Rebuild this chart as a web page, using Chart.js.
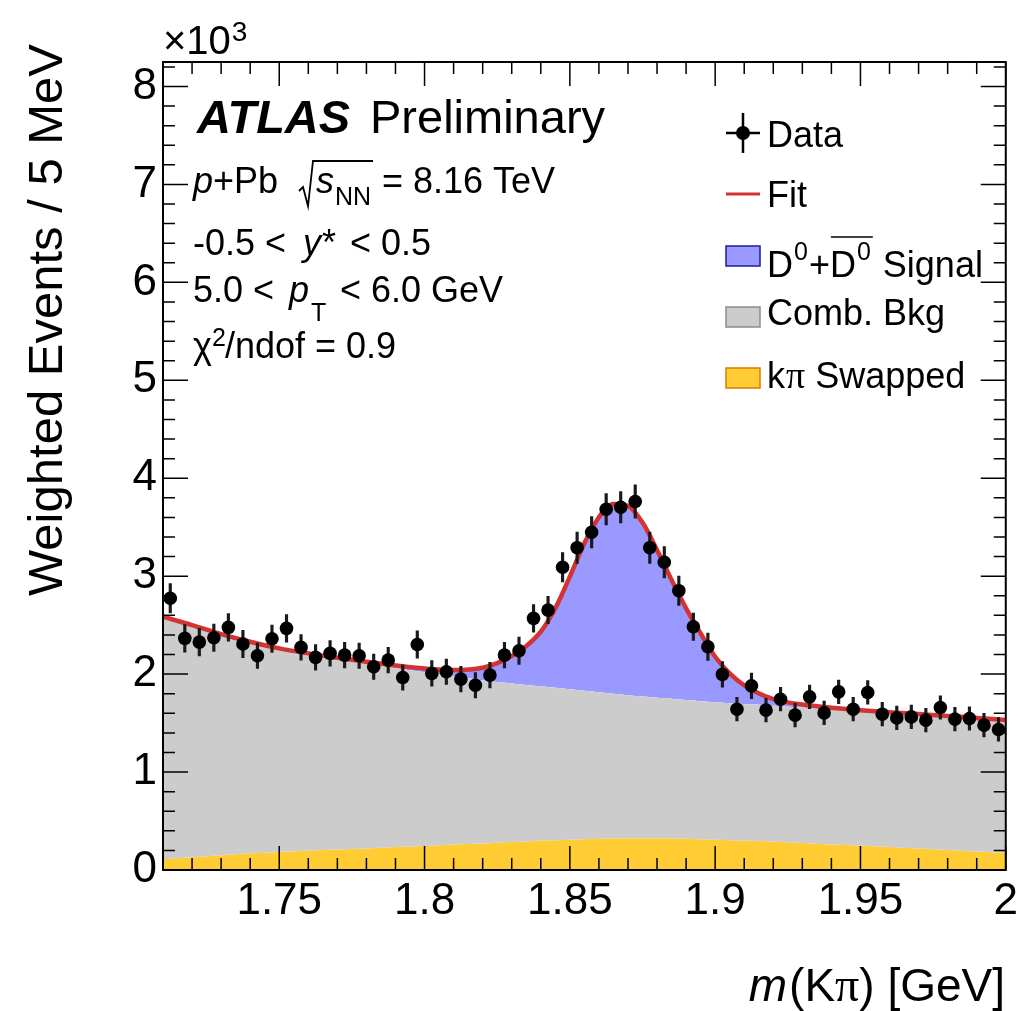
<!DOCTYPE html>
<html lang="en">
<head>
<meta charset="UTF-8">
<title>D0 mass fit, p+Pb 8.16 TeV</title>
<style>
    body { margin: 0; background: #fff; }
    #wrap { width: 1023px; height: 1011px; }
</style>
</head>
<body>
<div id="wrap"><canvas id="massChart"></canvas></div>

<script src="https://cdn.jsdelivr.net/npm/chart.js@4.4.1/dist/chart.umd.min.js"></script>
<script>
    // bin centres (5 MeV bins) and weighted counts, in units of 10^3
    const binCenters = [
        1.7125, 1.7175, 1.7225, 1.7275, 1.7325, 1.7375, 1.7425, 1.7475, 1.7525, 1.7575,
        1.7625, 1.7675, 1.7725, 1.7775, 1.7825, 1.7875, 1.7925, 1.7975, 1.8025, 1.8075,
        1.8125, 1.8175, 1.8225, 1.8275, 1.8325, 1.8375, 1.8425, 1.8475, 1.8525, 1.8575,
        1.8625, 1.8675, 1.8725, 1.8775, 1.8825, 1.8875, 1.8925, 1.8975, 1.9025, 1.9075,
        1.9125, 1.9175, 1.9225, 1.9275, 1.9325, 1.9375, 1.9425, 1.9475, 1.9525, 1.9575,
        1.9625, 1.9675, 1.9725, 1.9775, 1.9825, 1.9875, 1.9925, 1.9975
    ];
    const dataValues = [
        2.774, 2.365, 2.327, 2.371, 2.477, 2.307, 2.187, 2.361, 2.467, 2.273,
        2.171, 2.212, 2.194, 2.187, 2.075, 2.143, 1.966, 2.303, 2.007, 2.024,
        1.949, 1.887, 1.990, 2.194, 2.238, 2.569, 2.654, 3.091, 3.291, 3.449,
        3.684, 3.704, 3.762, 3.291, 3.142, 2.852, 2.484, 2.279, 1.997, 1.642,
        1.880, 1.632, 1.744, 1.581, 1.768, 1.604, 1.819, 1.642, 1.813, 1.591,
        1.553, 1.563, 1.530, 1.659, 1.540, 1.547, 1.479, 1.435
    ];
    const dataErrors = [
        0.15, 0.14, 0.14, 0.14, 0.14, 0.14, 0.13, 0.14, 0.14, 0.13,
        0.13, 0.13, 0.13, 0.13, 0.13, 0.13, 0.13, 0.14, 0.13, 0.13,
        0.13, 0.13, 0.13, 0.13, 0.14, 0.14, 0.14, 0.15, 0.16, 0.16,
        0.16, 0.16, 0.17, 0.16, 0.16, 0.15, 0.14, 0.14, 0.13, 0.12,
        0.13, 0.12, 0.12, 0.12, 0.12, 0.12, 0.12, 0.12, 0.12, 0.12,
        0.12, 0.12, 0.12, 0.12, 0.12, 0.12, 0.12, 0.12
    ];

    // fit components (stacked: swapped, + comb. bkg, + signal)
    const curveX = [
        1.71, 1.72, 1.73, 1.74, 1.75, 1.76, 1.77, 1.78, 1.79, 1.80, 1.81, 1.82,
        1.825, 1.83, 1.835, 1.84, 1.845, 1.85, 1.855, 1.86, 1.865, 1.87, 1.875, 1.88,
        1.885, 1.89, 1.895, 1.90, 1.905, 1.91,
        1.92, 1.93, 1.94, 1.95, 1.96, 1.97, 1.98, 1.99, 2.00
    ];
    const swappedTop = [
        0.11, 0.13, 0.15, 0.17, 0.185, 0.20, 0.21, 0.22, 0.235, 0.245, 0.26, 0.27,
        0.278, 0.285, 0.292, 0.30, 0.305, 0.31, 0.315, 0.32, 0.322, 0.325, 0.325, 0.325,
        0.323, 0.32, 0.315, 0.31, 0.305, 0.30,
        0.29, 0.275, 0.26, 0.25, 0.235, 0.22, 0.205, 0.19, 0.177
    ];
    const bkgTop = [
        2.586, 2.501, 2.409, 2.330, 2.263, 2.21, 2.16, 2.11, 2.06, 2.02, 1.98, 1.935,
        1.92, 1.905, 1.89, 1.875, 1.86, 1.845, 1.83, 1.815, 1.80, 1.785, 1.772, 1.76,
        1.748, 1.735, 1.723, 1.712, 1.703, 1.695,
        1.678, 1.66, 1.642, 1.624, 1.606, 1.588, 1.57, 1.55, 1.53
    ];
    const fitTotal = [
        2.586, 2.501, 2.409, 2.330, 2.263, 2.212, 2.167, 2.126, 2.089, 2.058, 2.041, 2.065,
        2.112, 2.184, 2.286, 2.433, 2.672, 2.995, 3.336, 3.602, 3.738, 3.718, 3.547, 3.268,
        2.961, 2.672, 2.416, 2.177, 2.007, 1.885,
        1.745, 1.69, 1.657, 1.632, 1.611, 1.592, 1.573, 1.552, 1.532
    ];

    // axis ticks
    const xMajor = [1.75, 1.8, 1.85, 1.9, 1.95, 2.0];
    const xTickLabels = ['1.75', '1.8', '1.85', '1.9', '1.95', '2'];
    const yMajor = [0, 1, 2, 3, 4, 5, 6, 7, 8];
    const yTickLabels = ['0', '1', '2', '3', '4', '5', '6', '7', '8'];

    const FONT = '"Liberation Sans", Arial, Helvetica, sans-serif';
    const SERIF = '"Liberation Serif", "Times New Roman", serif';
    const pts = (xs, ys) => xs.map((x, i) => ({x: x, y: ys[i]}));
    const majorIndex = (v, majors) => majors.findIndex(m => Math.abs(m - v) < 1e-6);
    const onStep = (v, step) => Math.abs(v / step - Math.round(v / step)) < 1e-6;

    function txt(ctx, s, x, y, size, style, family) {
        ctx.font = (style || '') + ' ' + size + 'px ' + (family || FONT);
        ctx.fillText(s, x, y);
        return x + ctx.measureText(s).width;
    }

    // ROOT-like frame: ticks pointing inwards on all four sides
    const framePlugin = {
        id: 'frame',
        afterDatasetsDraw(chart) {
            const {ctx, chartArea: a, scales: {x, y}} = chart;
            ctx.save();
            ctx.strokeStyle = '#000';
            ctx.lineWidth = 1.5;
            ctx.beginPath();
            x.ticks.forEach(t => {
                if (!onStep(t.value, 0.01)) return;
                const px = x.getPixelForValue(t.value);
                const len = majorIndex(t.value, xMajor) >= 0 ? 24 : 12;
                ctx.moveTo(px, a.bottom); ctx.lineTo(px, a.bottom - len);
                ctx.moveTo(px, a.top); ctx.lineTo(px, a.top + len);
            });
            y.ticks.forEach(t => {
                if (!onStep(t.value, 0.2)) return;
                const py = y.getPixelForValue(t.value);
                const len = majorIndex(t.value, yMajor) >= 0 ? 25 : 12;
                ctx.moveTo(a.left, py); ctx.lineTo(a.left + len, py);
                ctx.moveTo(a.right, py); ctx.lineTo(a.right - len, py);
            });
            ctx.stroke();
            ctx.lineWidth = 2;
            ctx.strokeRect(a.left, a.top, a.right - a.left, a.bottom - a.top);
            ctx.restore();
        }
    };

    // labels, legend and axis titles
    const textPlugin = {
        id: 'texts',
        afterDraw(chart) {
            const ctx = chart.ctx;
            ctx.save();
            ctx.fillStyle = '#000';
            ctx.textAlign = 'left';
            ctx.textBaseline = 'alphabetic';

            // x10^3
            let cx = txt(ctx, '\u00d710', 163, 54, 40);
            txt(ctx, '3', cx + 1, 41, 28);

            txt(ctx, 'ATLAS', 197, 133, 47, 'italic bold');
            txt(ctx, 'Preliminary', 370, 133, 47);

            // p+Pb sqrt(sNN) = 8.16 TeV
            cx = txt(ctx, 'p', 193, 193, 36, 'italic');
            txt(ctx, '+Pb', cx, 193, 36);
            const sx = 299;
            ctx.strokeStyle = '#000';
            ctx.lineWidth = 1.8;
            ctx.beginPath();
            ctx.moveTo(sx, 191); ctx.lineTo(sx + 4, 187); ctx.lineTo(sx + 9, 206);
            ctx.lineTo(sx + 14, 161); ctx.lineTo(sx + 74, 161);
            ctx.stroke();
            txt(ctx, 's', sx + 17, 193, 36, 'italic');
            txt(ctx, 'NN', sx + 36, 205, 25);
            txt(ctx, '= 8.16 TeV', 382, 193, 36);

            txt(ctx, '-0.5 <', 193, 255, 36);
            cx = txt(ctx, 'y', 303, 255, 36, 'italic');
            txt(ctx, '*', cx + 1, 255, 36);
            txt(ctx, '< 0.5', 350, 255, 36);

            txt(ctx, '5.0 <', 193, 302, 36);
            cx = txt(ctx, 'p', 289, 302, 36, 'italic');
            txt(ctx, 'T', cx + 2, 321, 25);
            txt(ctx, '< 6.0 GeV', 340, 302, 36);

            cx = txt(ctx, '\u03c7', 193, 358, 36);
            txt(ctx, '2', cx, 346, 25);
            txt(ctx, '/ndof = 0.9', 225, 358, 36);

            // legend
            const lx0 = 726, lx1 = 760, tx = 767;
            ctx.lineWidth = 2.5;
            ctx.strokeStyle = '#000';
            ctx.beginPath();
            ctx.moveTo(lx0, 133); ctx.lineTo(lx1, 133);
            ctx.moveTo(743, 113); ctx.lineTo(743, 153);
            ctx.stroke();
            ctx.beginPath(); ctx.arc(743, 133, 7, 0, Math.PI * 2); ctx.fill();
            txt(ctx, 'Data', tx, 147, 36);

            ctx.strokeStyle = '#d33333';
            ctx.lineWidth = 3;
            ctx.beginPath(); ctx.moveTo(lx0, 194); ctx.lineTo(lx1, 194); ctx.stroke();
            txt(ctx, 'Fit', tx, 207, 36);

            const box = (y0, fill, edge) => {
                ctx.fillStyle = fill; ctx.fillRect(lx0, y0, lx1 - lx0, 20);
                ctx.strokeStyle = edge; ctx.lineWidth = 1.5; ctx.strokeRect(lx0, y0, lx1 - lx0, 20);
                ctx.fillStyle = '#000';
            };
            box(246, '#9999ff', '#1a1aa8');
            cx = txt(ctx, 'D', tx, 277, 36);
            cx = txt(ctx, '0', cx + 1, 260, 25);
            cx = txt(ctx, '+', cx + 1, 277, 36);
            const dbar = cx;
            cx = txt(ctx, 'D', cx, 277, 36);
            cx = txt(ctx, '0', cx + 1, 260, 25);
            ctx.strokeStyle = '#000'; ctx.lineWidth = 1.5;
            ctx.beginPath(); ctx.moveTo(dbar + 1, 237); ctx.lineTo(cx + 2, 237); ctx.stroke();
            txt(ctx, 'Signal', cx + 12, 277, 36);

            box(307, '#cccccc', '#8c8c8c');
            txt(ctx, 'Comb. Bkg', tx, 325, 36);

            box(368, '#ffcc33', '#dd7a00');
            cx = txt(ctx, 'k', tx, 388, 36);
            cx = txt(ctx, '\u03c0', cx + 1, 388, 38, '', SERIF);
            txt(ctx, 'Swapped', cx + 10, 388, 36);

            // x axis title, right aligned to the frame
            ctx.font = '46px ' + FONT;
            const wTail = ctx.measureText(') [GeV]').width;
            ctx.font = '48px ' + SERIF;
            const wPi = ctx.measureText('\u03c0').width;
            ctx.font = '46px ' + FONT;
            const wHead = ctx.measureText('(K').width;
            ctx.font = 'italic 46px ' + FONT;
            const wm = ctx.measureText('m').width;
            let ax = 1005 - wTail - wPi - wHead - wm - 2;
            ax = txt(ctx, 'm', ax, 1001, 46, 'italic');
            ax = txt(ctx, '(K', ax + 2, 1001, 46);
            ax = txt(ctx, '\u03c0', ax, 1001, 48, '', SERIF);
            txt(ctx, ') [GeV]', ax, 1001, 46);

            ctx.translate(62, 44);
            ctx.rotate(-Math.PI / 2);
            ctx.textAlign = 'right';
            txt(ctx, 'Weighted Events / 5 MeV', 0, 0, 49);
            ctx.restore();
        }
    };

    const fitCtx = document.getElementById('massChart').getContext('2d');
    const massChart = new Chart(fitCtx, {
        type: 'line',
        data: {
            datasets: [
                {
                    label: 'k\u03c0 Swapped',
                    data: pts(curveX, swappedTop),
                    fill: 'origin',
                    backgroundColor: '#ffcc33',
                    borderColor: 'rgba(0,0,0,0)',
                    borderWidth: 0,
                    pointRadius: 0,
                    cubicInterpolationMode: 'monotone',
                    order: 5
                },
                {
                    label: 'Comb. Bkg',
                    data: pts(curveX, bkgTop),
                    fill: 0,
                    backgroundColor: '#cccccc',
                    borderColor: 'rgba(0,0,0,0)',
                    borderWidth: 0,
                    pointRadius: 0,
                    cubicInterpolationMode: 'monotone',
                    order: 4
                },
                {
                    label: 'Fit',
                    data: pts(curveX, fitTotal),
                    fill: {target: 1, above: '#9999ff', below: 'rgba(0,0,0,0)'},
                    borderColor: '#d33333',
                    borderWidth: 4.5,
                    pointRadius: 0,
                    cubicInterpolationMode: 'monotone',
                    order: 3
                },
                {
                    type: 'bar',
                    label: 'Data errors',
                    data: binCenters.map((x, i) => ({x: x, y: [dataValues[i] - dataErrors[i], dataValues[i] + dataErrors[i]]})),
                    backgroundColor: '#1a1a1a',
                    barThickness: 2.5,
                    order: 2
                },
                {
                    label: 'Data',
                    data: pts(binCenters, dataValues),
                    showLine: false,
                    pointRadius: 6.8,
                    pointBackgroundColor: '#000',
                    pointBorderWidth: 0,
                    order: 1
                }
            ]
        },
        options: {
            responsive: true,
            maintainAspectRatio: false,
            animation: false,
            events: [],
            layout: { padding: { top: 62, right: 17, left: 0, bottom: 0 } },
            plugins: { legend: { display: false }, tooltip: { enabled: false } },
            scales: {
                x: {
                    type: 'linear',
                    min: 1.71,
                    max: 2.0,
                    bounds: 'data',
                    offset: false,
                    grid: { display: false, drawTicks: false },
                    border: { display: false },
                    ticks: {
                        stepSize: 0.01,
                        autoSkip: false,
                        maxRotation: 0,
                        minRotation: 0,
                        includeBounds: false,
                        padding: 5,
                        color: '#000',
                        font: { family: FONT, size: 44 },
                        callback: v => { const k = majorIndex(v, xMajor); return k >= 0 ? xTickLabels[k] : ''; }
                    },
                    afterFit: s => { s.height = 141; }
                },
                y: {
                    type: 'linear',
                    min: 0,
                    max: 8.25,
                    bounds: 'data',
                    grid: { display: false, drawTicks: false },
                    border: { display: false },
                    ticks: {
                        stepSize: 0.2,
                        autoSkip: false,
                        includeBounds: false,
                        padding: 6,
                        color: '#000',
                        font: { family: FONT, size: 44 },
                        callback: v => { const k = majorIndex(v, yMajor); return k >= 0 ? yTickLabels[k] : ''; }
                    },
                    afterFit: s => { s.width = 163; }
                }
            }
        },
        plugins: [framePlugin, textPlugin]
    });
</script>
</body>
</html>
